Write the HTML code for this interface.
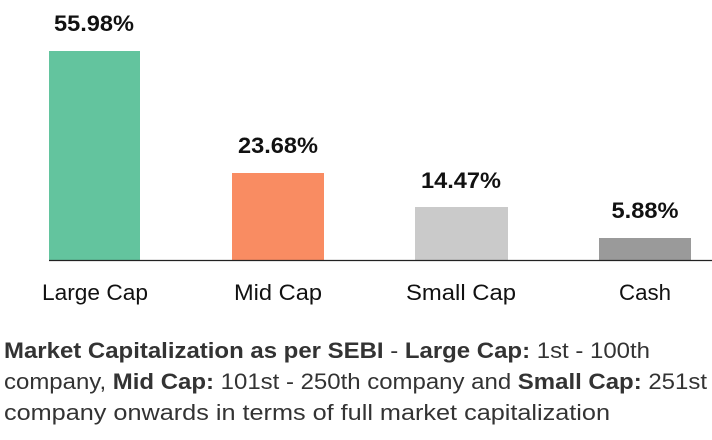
<!DOCTYPE html>
<html><head><meta charset="utf-8"><style>
html,body{margin:0;padding:0;background:#fff;width:712px;height:440px;overflow:hidden}
svg{display:block}
</style></head><body>
<svg width="712" height="440" xmlns="http://www.w3.org/2000/svg" font-family="Liberation Sans, sans-serif">
<rect x="49" y="51" width="91" height="209" fill="#63c49e"/>
<rect x="232" y="173" width="92" height="87" fill="#f98c62"/>
<rect x="415" y="207" width="93" height="53" fill="#cacaca"/>
<rect x="599" y="238" width="92" height="22" fill="#9a9a9a"/>
<line x1="49" y1="260.5" x2="712" y2="260.5" stroke="#222" stroke-width="1.2"/>
<g font-size="22" font-weight="bold" fill="#111" text-anchor="middle">
<text x="94" y="31" textLength="80" lengthAdjust="spacingAndGlyphs">55.98%</text>
<text x="278" y="153" textLength="80" lengthAdjust="spacingAndGlyphs">23.68%</text>
<text x="461" y="188" textLength="80" lengthAdjust="spacingAndGlyphs">14.47%</text>
<text x="645" y="218" textLength="67" lengthAdjust="spacingAndGlyphs">5.88%</text>
</g>
<g font-size="22" fill="#111" text-anchor="middle">
<text x="95" y="300" textLength="106" lengthAdjust="spacingAndGlyphs">Large Cap</text>
<text x="278" y="300" textLength="88" lengthAdjust="spacingAndGlyphs">Mid Cap</text>
<text x="461" y="300" textLength="110" lengthAdjust="spacingAndGlyphs">Small Cap</text>
<text x="645" y="300" textLength="52" lengthAdjust="spacingAndGlyphs">Cash</text>
</g>
<g font-size="22" fill="#333">
<text x="4" y="358" textLength="646" lengthAdjust="spacingAndGlyphs"><tspan font-weight="bold">Market Capitalization as per SEBI</tspan> - <tspan font-weight="bold">Large Cap:</tspan> 1st - 100th</text>
<text x="4" y="389" textLength="703" lengthAdjust="spacingAndGlyphs">company, <tspan font-weight="bold">Mid Cap:</tspan> 101st - 250th company and <tspan font-weight="bold">Small Cap:</tspan> 251st</text>
<text x="4" y="420" textLength="606" lengthAdjust="spacingAndGlyphs">company onwards in terms of full market capitalization</text>
</g>
</svg>
</body></html>
